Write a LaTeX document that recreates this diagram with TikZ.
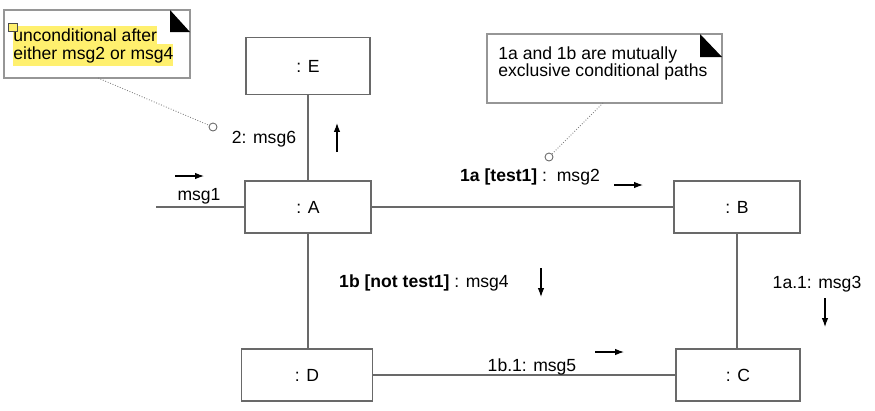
\documentclass[tikz,border=0pt]{standalone}
\usepackage{fontspec}
\setmainfont{Liberation Sans}
\usetikzlibrary{arrows.meta}

\definecolor{boxgray}{RGB}{105,105,105}
\definecolor{hilite}{RGB}{255,240,110}

\tikzset{
	objbox/.style={draw=boxgray, line width=0.6pt, minimum width=2.52cm, minimum height=1.04cm, font=\fontsize{10}{12}\selectfont},
	link/.style={draw=boxgray, line width=0.6pt},
	msgarrow/.style={-{Latex[length=5pt,width=3.6pt]}, line width=0.6pt},
	lbl/.style={font=\fontsize{10}{12}\selectfont, inner sep=0pt},
	notebox/.style={draw=boxgray!70, line width=0.6pt, fill=white},
	anchorline/.style={draw=gray, densely dotted, line width=0.5pt},
	anchorpt/.style={circle, draw=boxgray, fill=white, line width=0.5pt, inner sep=0pt, minimum size=0.16cm}
}

\begin{document}
\begin{tikzpicture}[x=0.02cm, y=-0.02cm]
	\useasboundingbox (0,0) rectangle (875,410);

	% objects
	\node[objbox, minimum width=2.48cm, minimum height=1.14cm] at (308,66) (e) {: E};
	\node[objbox] at (308,207) (a) {: A};
	\node[objbox] at (737,207) (b) {: B};
	\node[objbox, minimum width=2.62cm] at (307,375) (d) {: D};
	\node[objbox, minimum width=2.48cm] at (738,375) (c) {: C};

	% links
	\coordinate (msgin) at (156,207);
	\draw[link] (msgin) -- (a);
	\draw[link] (a) -- (e);
	\draw[link] (a) -- (b);
	\draw[link] (a) -- (a |- d.north);
	\draw[link] (b) -- (b |- c.north);
	\draw[link] (d) -- (c);

	% notes
	\draw[notebox] (4,10) rectangle (190,78);
	\fill (170,10) -- (190,32) -- (170,32) -- cycle;
	\node[lbl, fill=hilite, anchor=west, inner ysep=1.6pt] at (13,35) (condone) {unconditional after};
	\node[lbl, fill=hilite, anchor=west, inner ysep=1.6pt] at (13,55) (condtwo) {either msg2 or msg4};
	\filldraw[draw=black!70, fill=hilite, line width=0.4pt] (8,23) rectangle (17,31);

	\draw[notebox] (487,34) rectangle (722,103);
	\fill (700,34) -- (722,57) -- (700,57) -- cycle;
	\node[lbl, anchor=west] at (498,55) (exclone) {1a and 1b are mutually};
	\node[lbl, anchor=west] at (498,72) (excltwo) {exclusive conditional paths};

	\node[anchorpt] at (213,127) (pinE) {};
	\coordinate (condtail) at (98,78);
	\draw[anchorline] (condtail) -- (pinE);
	\node[anchorpt] at (549,157) (pinB) {};
	\coordinate (excltail) at (603,103);
	\draw[anchorline] (excltail) -- (pinB);

	% messages
	\node[lbl] at (199,196) (msgone) {msg1};
	\node[lbl] at (264,139) (msgsix) {2: msg6};
	\node[lbl] at (530,177) (msgtwo) {\textbf{1a [test1]} :\ \ msg2};
	\node[lbl] at (424,283) (msgfour) {\textbf{1b [not test1]} : msg4};
	\node[lbl] at (817,284) (msgthree) {1a.1: msg3};
	\node[lbl] at (532,367) (msgfive) {1b.1: msg5};

	\draw[msgarrow] (175,176) -- (204,176);
	\draw[msgarrow] (337,152) -- (337,123);
	\draw[msgarrow] (614,185) -- (643,185);
	\draw[msgarrow] (541,268) -- (541,297);
	\draw[msgarrow] (825,298) -- (825,327);
	\draw[msgarrow] (595,352) -- (624,352);
\end{tikzpicture}
\end{document}
